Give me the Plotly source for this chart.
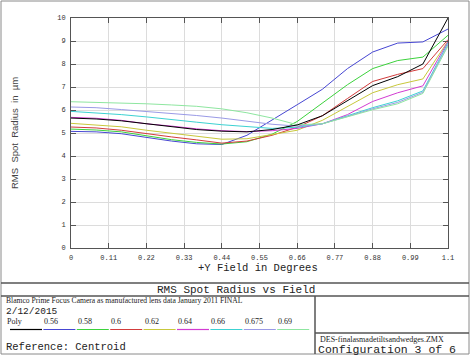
import plotly.graph_objects as go

# ---- data ----
field = [0, 0.0733, 0.1467, 0.22, 0.2933, 0.3667, 0.44, 0.5133, 0.5867,
         0.66, 0.7333, 0.8067, 0.88, 0.9533, 1.0267, 1.1]

series_names = ["Poly", "0.56", "0.58", "0.6", "0.62", "0.64", "0.66", "0.675", "0.69"]

poly   = [5.65, 5.61, 5.53, 5.40, 5.27, 5.15, 5.08, 5.05, 5.15, 5.35, 5.75, 6.40, 7.06, 7.45, 8.00, 10.0]
w056   = [5.07, 5.05, 4.97, 4.81, 4.65, 4.53, 4.50, 4.90, 5.55, 6.23, 6.90, 7.80, 8.52, 8.91, 8.96, 9.52]
w058   = [5.17, 5.13, 5.05, 4.87, 4.71, 4.59, 4.52, 4.62, 4.95, 5.50, 6.30, 7.10, 7.80, 8.15, 8.30, 9.25]
w060   = [5.26, 5.22, 5.12, 4.96, 4.83, 4.70, 4.56, 4.65, 4.90, 5.25, 5.75, 6.50, 7.24, 7.55, 7.80, 9.06]
w062   = [5.42, 5.35, 5.27, 5.12, 5.00, 4.87, 4.73, 4.75, 4.92, 5.12, 5.55, 6.15, 6.75, 7.10, 7.35, 9.00]
w064   = [5.68, 5.64, 5.55, 5.40, 5.30, 5.18, 5.10, 5.06, 5.10, 5.20, 5.40, 5.80, 6.37, 6.75, 7.05, 8.98]
w066   = [5.94, 5.88, 5.80, 5.70, 5.60, 5.47, 5.36, 5.27, 5.20, 5.25, 5.40, 5.75, 6.10, 6.40, 6.83, 8.92]
w0675  = [6.13, 6.10, 6.02, 5.94, 5.86, 5.76, 5.65, 5.50, 5.38, 5.30, 5.40, 5.72, 6.05, 6.33, 6.77, 8.85]
w069   = [6.36, 6.34, 6.31, 6.27, 6.22, 6.16, 6.05, 5.88, 5.65, 5.36, 5.40, 5.70, 6.01, 6.27, 6.72, 8.78]

series_values = [poly, w056, w058, w060, w062, w064, w066, w0675, w069]
colors = ["#000000", "#4646d2", "#3cd23c", "#d23c3c", "#c8c83c",
          "#d23cd2", "#3cd2d2", "#9a9ae6", "#8ee6a0"]

x_ticks = [0, 0.11, 0.22, 0.33, 0.44, 0.55, 0.66, 0.77, 0.88, 0.99, 1.1]
x_tick_labels = ["0", "0.11", "0.22", "0.33", "0.44", "0.55", "0.66", "0.77", "0.88", "0.99", "1.1"]
y_ticks = list(range(0, 11))

chart_title = "RMS Spot Radius vs Field"
x_title = "+Y Field in Degrees"
y_title = "RMS  Spot  Radius  in  \u00b5m"
lens_text = "Blamco Prime Focus Camera as manufactured lens data January 2011 FINAL"
date_text = "2/12/2015"
ref_text = "Reference: Centroid"
file_text = "DES-finalasmadetiltsandwedges.ZMX"
config_text = "Configuration 3 of 6"

# ---- figure ----
W, H = 473, 356
L, R, T, B = 71, 448, 18, 248


def px(x):
    return (x - L) / (R - L)


def py(y):
    return (B - y) / (B - T)


fig = go.Figure()
order = list(range(1, len(series_names))) + [0]
for i in order:
    fig.add_trace(go.Scatter(x=field, y=series_values[i], mode="lines",
                             name=series_names[i],
                             line=dict(color=colors[i], width=1),
                             showlegend=False, hoverinfo="skip"))

mono = "Liberation Mono"
serif = "Liberation Serif"

fig.update_layout(
    width=W, height=H,
    margin=dict(l=L, r=W - R, t=T, b=H - B, pad=0),
    paper_bgcolor="white", plot_bgcolor="white",
    showlegend=False,
    xaxis=dict(range=[0, 1.1], tickvals=x_ticks, ticktext=x_tick_labels,
               showgrid=True, gridcolor="#dcdcdc", gridwidth=1,
               showline=True, linecolor="#555555", linewidth=1, mirror="ticks",
               ticks="inside", ticklen=5, tickcolor="#555555",
               tickfont=dict(family=mono, size=7, color="#333333"),
               zeroline=False, ticklabelstandoff=3),
    yaxis=dict(range=[0, 10], tickvals=y_ticks,
               showgrid=True, gridcolor="#dcdcdc", gridwidth=1,
               showline=True, linecolor="#555555", linewidth=1, mirror="ticks",
               ticks="inside", ticklen=5, tickcolor="#555555",
               tickfont=dict(family=mono, size=7, color="#333333"),
               zeroline=False, ticklabelstandoff=3),
)

shapes = []
frame_col = "#555555"
# outer frame
shapes.append(dict(type="rect", xref="paper", yref="paper",
                   x0=px(1), x1=px(469), y0=py(354), y1=py(1),
                   line=dict(color="#8a8a8a", width=1)))
# bottom panel lines
shapes.append(dict(type="line", xref="paper", yref="paper",
                   x0=px(1), x1=px(469), y0=py(283), y1=py(283),
                   line=dict(color=frame_col, width=1.5)))
shapes.append(dict(type="line", xref="paper", yref="paper",
                   x0=px(1), x1=px(469), y0=py(296), y1=py(296),
                   line=dict(color=frame_col, width=1.5)))
shapes.append(dict(type="line", xref="paper", yref="paper",
                   x0=px(315), x1=px(315), y0=py(296), y1=py(354),
                   line=dict(color=frame_col, width=1.5)))
shapes.append(dict(type="line", xref="paper", yref="paper",
                   x0=px(315), x1=px(469), y0=py(333), y1=py(333),
                   line=dict(color=frame_col, width=1.5)))

annotations = []


def add_text(text, x, y, family, size, xanchor="left", color="#222222", angle=0):
    annotations.append(dict(text=text, xref="paper", yref="paper",
                            x=px(x), y=py(y), xanchor=xanchor, yanchor="middle",
                            showarrow=False, textangle=angle, borderpad=0,
                            font=dict(family=family, size=size, color=color)))


add_text(chart_title, 236, 290, mono, 11, xanchor="center")
add_text(x_title, 258, 268, mono, 10.5, xanchor="center")
add_text(y_title, 14, 133, "Liberation Sans", 9.5, xanchor="center", angle=-90, color="#444444")
add_text(lens_text, 5, 300.8, serif, 7.6)
add_text(date_text, 5, 311.3, mono, 9.5)
add_text(ref_text, 5, 346.5, mono, 10.5)
add_text(file_text, 319, 339.5, serif, 8)
add_text(config_text, 317, 349.5, mono, 11.5)

# legend row (labels from series_names, short line samples beneath)
leg_x0, leg_step, leg_len = 10, 33.4, 32
for i, name in enumerate(series_names):
    xs = leg_x0 + i * leg_step
    add_text(name, xs - 4 if i == 0 else xs, 321.5, serif, 8)
    shapes.append(dict(type="line", xref="paper", yref="paper",
                       x0=px(xs), x1=px(xs + leg_len), y0=py(329.5), y1=py(329.5),
                       line=dict(color=colors[i], width=1.2)))

fig.update_layout(shapes=shapes, annotations=annotations)
fig.write_html("out.html", config={"displayModeBar": False},
               post_script="document.body.style.margin='0';document.body.style.overflow='hidden';")
